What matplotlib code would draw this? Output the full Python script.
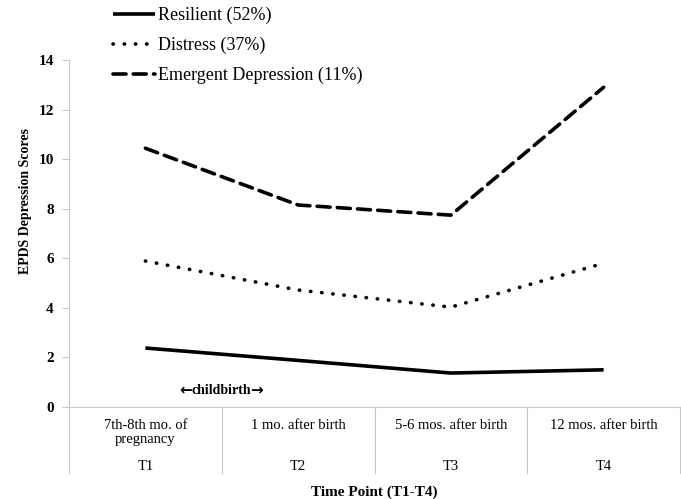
import matplotlib
matplotlib.use("Agg")
import matplotlib.pyplot as plt
import matplotlib.transforms as mtransforms

# data
time_points = ["T1", "T2", "T3", "T4"]
period_labels = ["7th-8th mo. of\npregnancy", "1 mo. after birth",
                 "5-6 mos. after birth", "12 mos. after birth"]
resilient = [2.38, 1.88, 1.37, 1.50]
distress = [5.89, 4.72, 4.03, 5.80]
emergent = [10.44, 8.15, 7.74, 12.90]
yticks = [0, 2, 4, 6, 8, 10, 12, 14]

plt.rcParams['font.family'] = ['Liberation Serif', 'DejaVu Serif']

fig = plt.figure(figsize=(6.81, 4.99), dpi=100)
W, H = 681, 499
ax = fig.add_axes([69 / W, 1 - 407 / H, (680 - 69) / W, (407 - 60) / H])

x = list(range(len(time_points)))
ax.plot(x, resilient, color='black', lw=2.6, solid_capstyle='butt',
        label='Resilient (52%)')
ax.plot(x, distress, color='black', lw=2.6, linestyle=(0, (0.1, 3.0)),
        dash_capstyle='round', label='Distress (37%)')
ax.plot(x, emergent, color='black', lw=2.6, linestyle=(0, (3.6, 2.0)),
        dash_capstyle='round', label='Emergent Depression (11%)')

ax.set_xlim(-0.5, 3.5)
ax.set_ylim(0, 14)
ax.set_yticks(yticks)
ax.set_yticklabels([str(v) for v in yticks], fontsize=11, fontweight='bold')
ax.tick_params(axis='y', length=5, width=0.8, color='#c8c8c8', pad=6)

# category axis drawn by hand: no ticks, separators below the axis
ax.set_xticks([])
for side in ('top', 'right'):
    ax.spines[side].set_visible(False)
ax.spines['left'].set_color('#c8c8c8')
ax.spines['bottom'].set_color('#c8c8c8')

trans = mtransforms.blended_transform_factory(ax.transData, ax.transAxes)
sep_bottom = -(473 - 407) / 347
for b in [-0.5, 0.5, 1.5, 2.5, 3.5]:
    ax.plot([b, b], [0, sep_bottom], color='#c8c8c8', lw=0.8,
            transform=trans, clip_on=False)

for i in x:
    ax.text(i, -(419 - 407) / 347, period_labels[i], transform=trans,
            ha='center', va='top', fontsize=10.5, linespacing=1.15)
    ax.text(i, -(467 - 407) / 347, time_points[i], transform=trans,
            ha='center', va='center', fontsize=10.5)

ax.text(0.5, -(492 - 407) / 347, "Time Point (T1-T4)", transform=ax.transAxes,
        ha='center', va='center', fontsize=11, fontweight='bold')
fig.text(26 / W, 1 - 201 / H, "EPDS Depression Scores", rotation=90,
         ha='center', va='center', fontsize=10, fontweight='bold')

# childbirth note with heavy arrows, in figure pixels
fig.text(221 / W, 1 - 391 / H, "childbirth", fontsize=10, fontweight='bold',
         ha='center', va='center')
fig.text(192 / W, 1 - 390 / H, "\u2190", family='DejaVu Sans',
         fontsize=11, fontweight='bold', ha='right', va='center')
fig.text(250 / W, 1 - 390 / H, "\u2192", family='DejaVu Sans',
         fontsize=11, fontweight='bold', ha='left', va='center')

ax.legend(loc='upper left', bbox_to_anchor=(113 / W, 1 - 7 / H),
          bbox_transform=fig.transFigure, frameon=False, fontsize=13,
          handlelength=2.3, handletextpad=0.2, labelspacing=0.7,
          borderpad=0, borderaxespad=0)

fig.savefig("out.png", dpi=100)
